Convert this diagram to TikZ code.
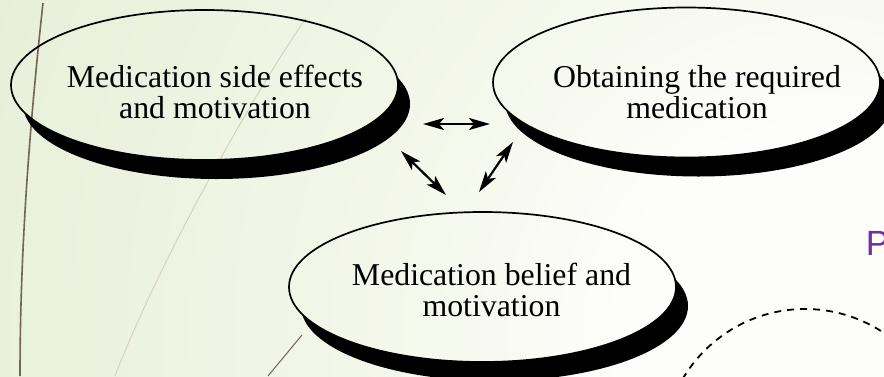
\documentclass[tikz,border=0pt]{standalone}
\usepackage{fontspec}
\setmainfont{Liberation Serif}
\newfontfamily\sansP{Liberation Sans}
\usetikzlibrary{shapes.geometric,arrows.meta}
\definecolor{bg0}{HTML}{FDFDFB}
\definecolor{bg1}{HTML}{F5F8EC}
\definecolor{bg2}{HTML}{ECF2DF}
\definecolor{bg3}{HTML}{E3ECD2}
\definecolor{bg4}{HTML}{DCE7C6}
\definecolor{darkline}{HTML}{706652}
\definecolor{faintline}{HTML}{D5D2C2}
\definecolor{ppurple}{HTML}{7030A0}
\pgfdeclareradialshading{bgshade}{\pgfpoint{0bp}{0bp}}{color(0bp)=(bg0);color(5bp)=(bg0);color(10bp)=(bg1);color(18bp)=(bg2);color(27bp)=(bg3);color(38bp)=(bg4);color(50bp)=(bg4)}
\tikzset{eoclip/.code={\pgfseteorule}}
\begin{document}
\begin{tikzpicture}[x=1pt,y=-1pt,
  bubble/.style={ellipse,draw=black,line width=1.7pt,minimum width=387pt,minimum height=150pt,inner sep=0pt,outer sep=0pt},
  btext/.style={font=\fontsize{31.8}{31.5}\selectfont,align=center,inner sep=0pt},
  link/.style={line width=2.2pt,{Stealth[length=21pt,width=12pt,inset=5pt]}-{Stealth[length=21pt,width=12pt,inset=5pt]}},
  dashcirc/.style={draw=black,line width=1.8pt,dash pattern=on 7pt off 6pt},
  shadowfill/.style={fill=black}
]
\useasboundingbox (0,0) rectangle (884,376);
\clip (0,0) rectangle (884,376);
% background
\shade[shading=bgshade] (-180,-670) rectangle (1820,1330);
% decorative lines
\draw[darkline,line width=1.6pt] (43,3) .. controls (28,140) and (20,260) .. (20,376);
\draw[faintline,line width=1pt] (306,18) .. controls (250,100) and (160,260) .. (115,376);
\draw[darkline,line width=1pt] (302,335) -- (268,376);
% bubbles
\node[bubble] (e1) at (204.5,85) {};
\node[bubble] (e2) at (686.5,82.5) {};
\node[bubble] (e3) at (482.5,287) {};
\foreach \n in {e1,e2,e3}{
  \begin{scope}
    \clip[eoclip] (-200,-200) rectangle (1100,600)
      (\n.center) ellipse [x radius=193.5pt, y radius=75pt];
    \fill[shadowfill] ([shift={(12,19)}]\n.center) ellipse [x radius=193.5pt, y radius=75pt];
  \end{scope}
}
\node[btext] (t1) at (215,92) {Medication side effects\\and motivation};
\node[btext] (t2) at (697,92) {Obtaining the required\\medication};
\node[btext] (t3) at (491.5,290) {Medication belief and\\motivation};
% arrows
\coordinate (a1) at (423,124);
\coordinate (a2) at (490,124);
\coordinate (b1) at (401,151);
\coordinate (b2) at (446,195);
\coordinate (c1) at (513,142);
\coordinate (c2) at (479,192);
\draw[link] (a1) -- (a2);
\draw[link] (b1) -- (b2);
\draw[link] (c1) -- (c2);
% dashed circle
\draw[dashcirc] (805,451) circle [radius=142pt];
% partial text
\node[anchor=base west,inner sep=0pt,text=ppurple,font=\sansP\fontsize{35}{40}\selectfont] (ptext) at (865.6,255) {P};
\end{tikzpicture}
\end{document}
